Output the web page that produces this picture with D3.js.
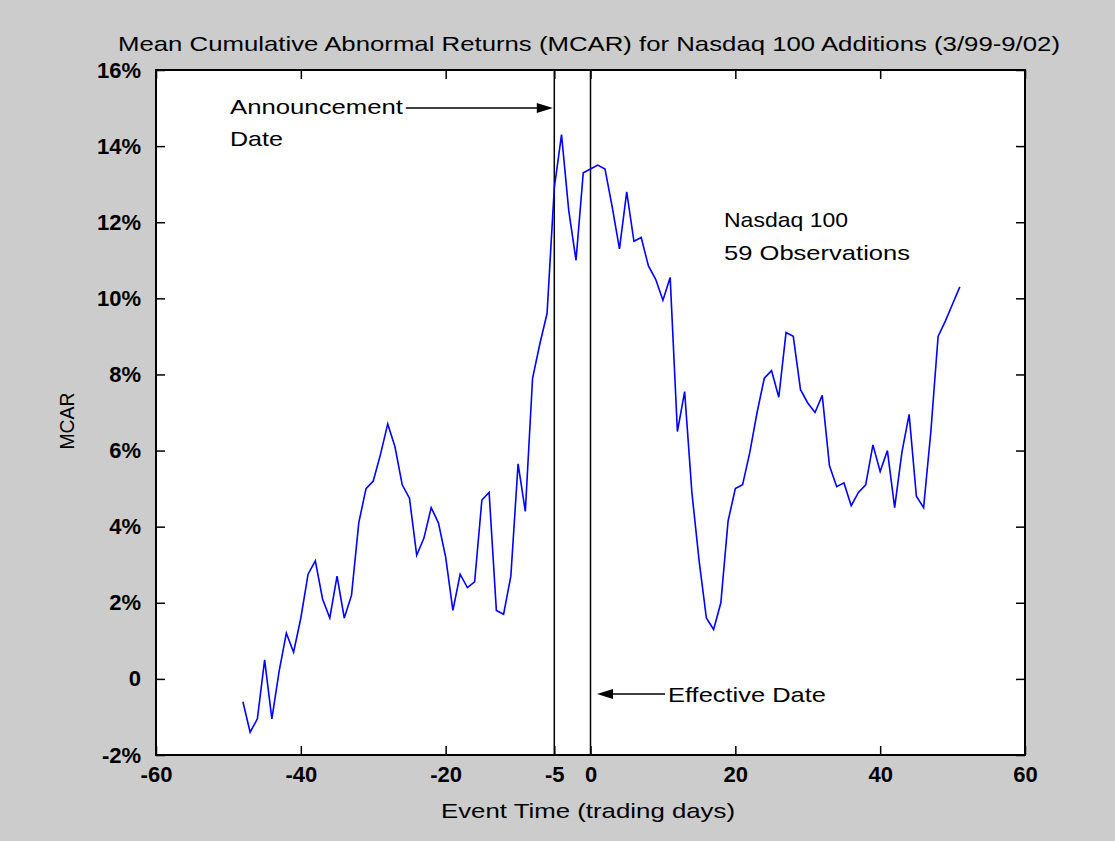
<!DOCTYPE html>
<html>
<head>
<meta charset="utf-8">
<script src="https://cdn.jsdelivr.net/npm/d3@7"></script>
<style>
  html, body { margin: 0; padding: 0; background: #cccccc; }
  svg { display: block; }
  text { font-family: "Liberation Sans", Arial, Helvetica, sans-serif; fill: #000; }
</style>
</head>
<body>
<svg id="chart" width="1115" height="841"></svg>
<script>
// ---- data ----
const eventDays = [-48,-47,-46,-45,-44,-43,-42,-41,-40,-39,-38,-37,-36,-35,-34,-33,-32,-31,-30,-29,
  -28,-27,-26,-25,-24,-23,-22,-21,-20,-19,-18,-17,-16,-15,-14,-13,-12,-11,-10,-9,
  -8,-7,-6,-5,-4,-3,-2,-1,0,1,2,3,4,5,6,7,8,9,10,11,
  12,13,14,15,16,17,18,19,20,21,22,23,24,25,26,27,28,29,30,31,
  32,33,34,35,36,37,38,39,40,41,42,43,44,45,46,47,48,49,50,51];
const mcarPct = [-0.6,-1.4,-1.05,0.5,-1.05,0.2,1.2,0.7,1.6,2.75,3.1,2.1,1.6,2.7,1.6,2.2,4.1,5.0,5.2,5.9,
  6.7,6.1,5.1,4.75,3.25,3.7,4.5,4.1,3.2,1.8,2.75,2.4,2.55,4.7,4.9,1.8,1.7,2.7,5.65,4.4,
  7.9,8.8,9.6,12.9,14.3,12.3,11.0,13.3,13.4,13.5,13.4,12.4,11.3,12.8,11.5,11.6,10.85,10.5,9.95,10.55,
  6.5,7.55,4.9,3.1,1.6,1.3,2.0,4.15,5.0,5.1,5.95,7.0,7.9,8.1,7.4,9.1,9.0,7.6,7.25,7.0,
  7.45,5.6,5.05,5.15,4.55,4.9,5.1,6.15,5.45,6.0,4.5,5.95,6.95,4.8,4.5,6.5,9.0,9.4,9.85,10.3];
const xTicks = [-60, -40, -20, -5, 0, 20, 40, 60];
const yTicks = [-2, 0, 2, 4, 6, 8, 10, 12, 14, 16];
const yTickLabels = ["-2%", "0", "2%", "4%", "6%", "8%", "10%", "12%", "14%", "16%"];
const eventLines = [-5, 0];
const titleText = "Mean Cumulative Abnormal Returns (MCAR) for Nasdaq 100 Additions (3/99-9/02)";

// ---- layout ----
const L = 156, R = 1025, T = 70, B = 755;
const svg = d3.select("#chart");
const x = d3.scaleLinear().domain([-60, 60]).range([L, R]);
const y = d3.scaleLinear().domain([-2, 16]).range([B, T]);

svg.append("rect").attr("x", 0).attr("y", 0).attr("width", 1115).attr("height", 841).attr("fill", "#cccccc");
svg.append("rect").attr("x", L).attr("y", T).attr("width", R - L).attr("height", B - T).attr("fill", "#ffffff");

// axes
const fmtY = d => yTickLabels[yTicks.indexOf(d)];
const gL = svg.append("g").attr("transform", `translate(${L},0)`)
  .call(d3.axisLeft(y).tickValues(yTicks).tickFormat(fmtY).tickSizeInner(-9).tickSizeOuter(0).tickPadding(15));
const gB = svg.append("g").attr("transform", `translate(0,${B})`)
  .call(d3.axisBottom(x).tickValues(xTicks).tickFormat(d => String(d)).tickSizeInner(-9).tickSizeOuter(0).tickPadding(11));
const gR = svg.append("g").attr("transform", `translate(${R},0)`)
  .call(d3.axisRight(y).tickValues(yTicks).tickFormat("").tickSizeInner(-9).tickSizeOuter(0));
const gT = svg.append("g").attr("transform", `translate(0,${T})`)
  .call(d3.axisTop(x).tickValues(xTicks).tickFormat("").tickSizeInner(-9).tickSizeOuter(0));
[gL, gB, gR, gT].forEach(g => {
  g.select(".domain").remove();
  g.selectAll(".tick line").attr("stroke", "#000").attr("stroke-width", 1.5);
  g.selectAll(".tick text").attr("font-size", 22).attr("font-weight", "bold")
    .attr("font-family", '"Liberation Sans", Arial, sans-serif').attr("fill", "#000");
});

// event lines
svg.append("g").selectAll("line").data(eventLines).join("line")
  .attr("x1", d => x(d)).attr("x2", d => x(d)).attr("y1", T).attr("y2", B)
  .attr("stroke", "#000").attr("stroke-width", 1.5);

// data line
const pts = eventDays.map((d, i) => [d, mcarPct[i]]);
svg.append("path").datum(pts)
  .attr("fill", "none").attr("stroke", "#0000ff").attr("stroke-width", 1.6)
  .attr("stroke-linejoin", "miter")
  .attr("d", d3.line().x(d => x(d[0])).y(d => y(d[1])));

// frame
svg.append("rect").attr("x", L).attr("y", T).attr("width", R - L).attr("height", B - T)
  .attr("fill", "none").attr("stroke", "#000").attr("stroke-width", 2);

// title and axis labels
svg.append("text").attr("x", 589).attr("y", 51).attr("text-anchor", "middle")
  .attr("font-size", 21).attr("textLength", 942).attr("lengthAdjust", "spacingAndGlyphs").text(titleText);
svg.append("text").attr("x", 588).attr("y", 818).attr("text-anchor", "middle")
  .attr("font-size", 21).attr("textLength", 294).attr("lengthAdjust", "spacingAndGlyphs").text("Event Time (trading days)");
svg.append("text").attr("transform", "translate(74,421) rotate(-90)").attr("text-anchor", "middle")
  .attr("font-size", 21).attr("textLength", 57).attr("lengthAdjust", "spacingAndGlyphs").text("MCAR");

// annotations
function label(tx, ty, str, w) {
  svg.append("text").attr("x", tx).attr("y", ty).attr("font-size", 21)
    .attr("textLength", w).attr("lengthAdjust", "spacingAndGlyphs").text(str);
}
label(230, 114, "Announcement", 173);
label(230, 146, "Date", 53);
label(724, 227, "Nasdaq 100", 124);
label(724, 260, "59 Observations", 186);
label(668, 702, "Effective Date", 158);

function arrow(x0, x1, yv) {
  const px0 = x(x0), px1 = x(x1), py = y(yv);
  const dir = px1 > px0 ? 1 : -1;
  svg.append("line").attr("x1", px0).attr("x2", px1 - dir * 4).attr("y1", py).attr("y2", py)
    .attr("stroke", "#000").attr("stroke-width", 1.5);
  svg.append("path")
    .attr("d", `M${px1},${py} L${px1 - dir * 16},${py - 5} L${px1 - dir * 16},${py + 5} Z`)
    .attr("fill", "#000");
}
arrow(-25.5, -5.2, 15);
arrow(10.3, 0.9, -0.4);
</script>
</body>
</html>
